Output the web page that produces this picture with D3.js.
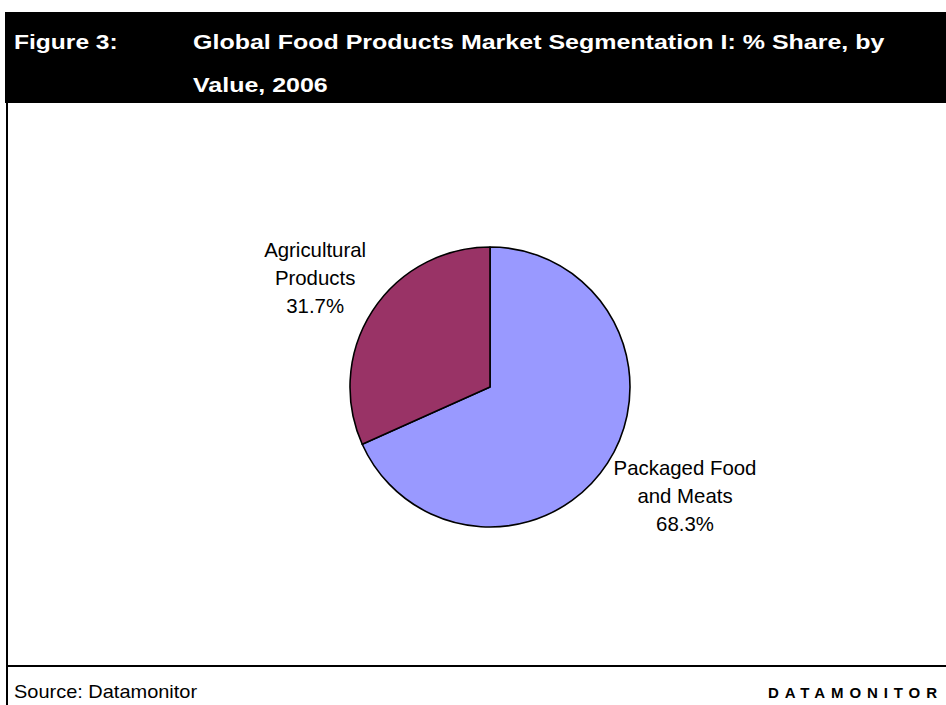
<!DOCTYPE html>
<html>
<head>
<meta charset="utf-8">
<script src="https://cdn.jsdelivr.net/npm/d3@7"></script>
<style>
  html, body { margin: 0; padding: 0; background: #fff; }
  svg { display: block; }
  text { font-family: Arial, "Liberation Sans", sans-serif; }
</style>
</head>
<body>
<svg id="chart" width="946" height="705"></svg>
<script>
// Segment data (% share by value, 2006)
const categories = ["Packaged Food and Meats", "Agricultural Products"];
const shares = [68.3, 31.7];
const labelLines = [["Packaged Food", "and Meats"], ["Agricultural", "Products"]];
const sliceColors = ["#9999FF", "#993366"];

const titleNumber = "Figure 3:";
const titleLines = ["Global Food Products Market Segmentation I: % Share, by", "Value, 2006"];
const sourceText = "Source: Datamonitor";
const brandText = "DATAMONITOR";

const W = 946, H = 705;
const svg = d3.select("#chart");

// Header band
svg.append("rect").attr("x", 5).attr("y", 12).attr("width", W - 5).attr("height", 91).attr("fill", "#000");

// Frame: left border and footer rule
svg.append("line").attr("x1", 7).attr("x2", 7).attr("y1", 103).attr("y2", H)
  .attr("stroke", "#000").attr("stroke-width", 2);
svg.append("line").attr("x1", 7).attr("x2", W).attr("y1", 666).attr("y2", 666)
  .attr("stroke", "#000").attr("stroke-width", 2);

// Stretched text helper
function stretchedText(g, str, x, y, size, weight, sx, fill) {
  return g.append("text")
    .attr("transform", `translate(${x},${y}) scale(${sx},1)`)
    .attr("font-size", size).attr("font-weight", weight)
    .attr("fill", fill).text(str);
}

stretchedText(svg, titleNumber, 14, 49, 21, "bold", 1.17, "#fff");
titleLines.forEach((t, i) => stretchedText(svg, t, 193, 49 + i * 43, 21, "bold", 1.19, "#fff"));

stretchedText(svg, sourceText, 14, 698, 18, "normal", 1.11, "#000");
svg.append("text").attr("x", 768).attr("y", 698)
  .attr("font-size", 15).attr("font-weight", "bold")
  .attr("letter-spacing", 5.9).attr("fill", "#000").text(brandText);

// Pie
const cx = 490, cy = 387, R = 140;
const data = categories.map((c, i) => ({ name: c, value: shares[i], lines: labelLines[i], color: sliceColors[i] }));
const pie = d3.pie().sort(null).value(d => d.value);
const arcs = pie(data);
const arc = d3.arc().innerRadius(0).outerRadius(R);

const g = svg.append("g").attr("transform", `translate(${cx},${cy})`);
g.selectAll("path.slice").data(arcs).enter().append("path")
  .attr("class", "slice")
  .attr("d", arc)
  .attr("fill", d => d.data.color)
  .attr("stroke", "#000").attr("stroke-width", 1.6).attr("stroke-linejoin", "round");

// Outside labels: placed along each slice's mid-angle, then nudged
const labelRadius = [215, 206];
const labelNudge = [[14.6, -7.7], [-2, 3.4]];
arcs.forEach((a, i) => {
  const mid = (a.startAngle + a.endAngle) / 2;
  const [px, py] = d3.pointRadial(mid, labelRadius[i]);
  const lx = px + labelNudge[i][0], ly = py + labelNudge[i][1];
  const lines = a.data.lines.concat([d3.format(".1f")(a.data.value) + "%"]);
  const t = g.append("text").attr("text-anchor", "middle").attr("font-size", 20.4).attr("fill", "#000");
  lines.forEach((s, k) => {
    t.append("tspan").attr("x", lx).attr("y", ly + 7 + (k - 1) * 28).text(s);
  });
});
</script>
</body>
</html>
